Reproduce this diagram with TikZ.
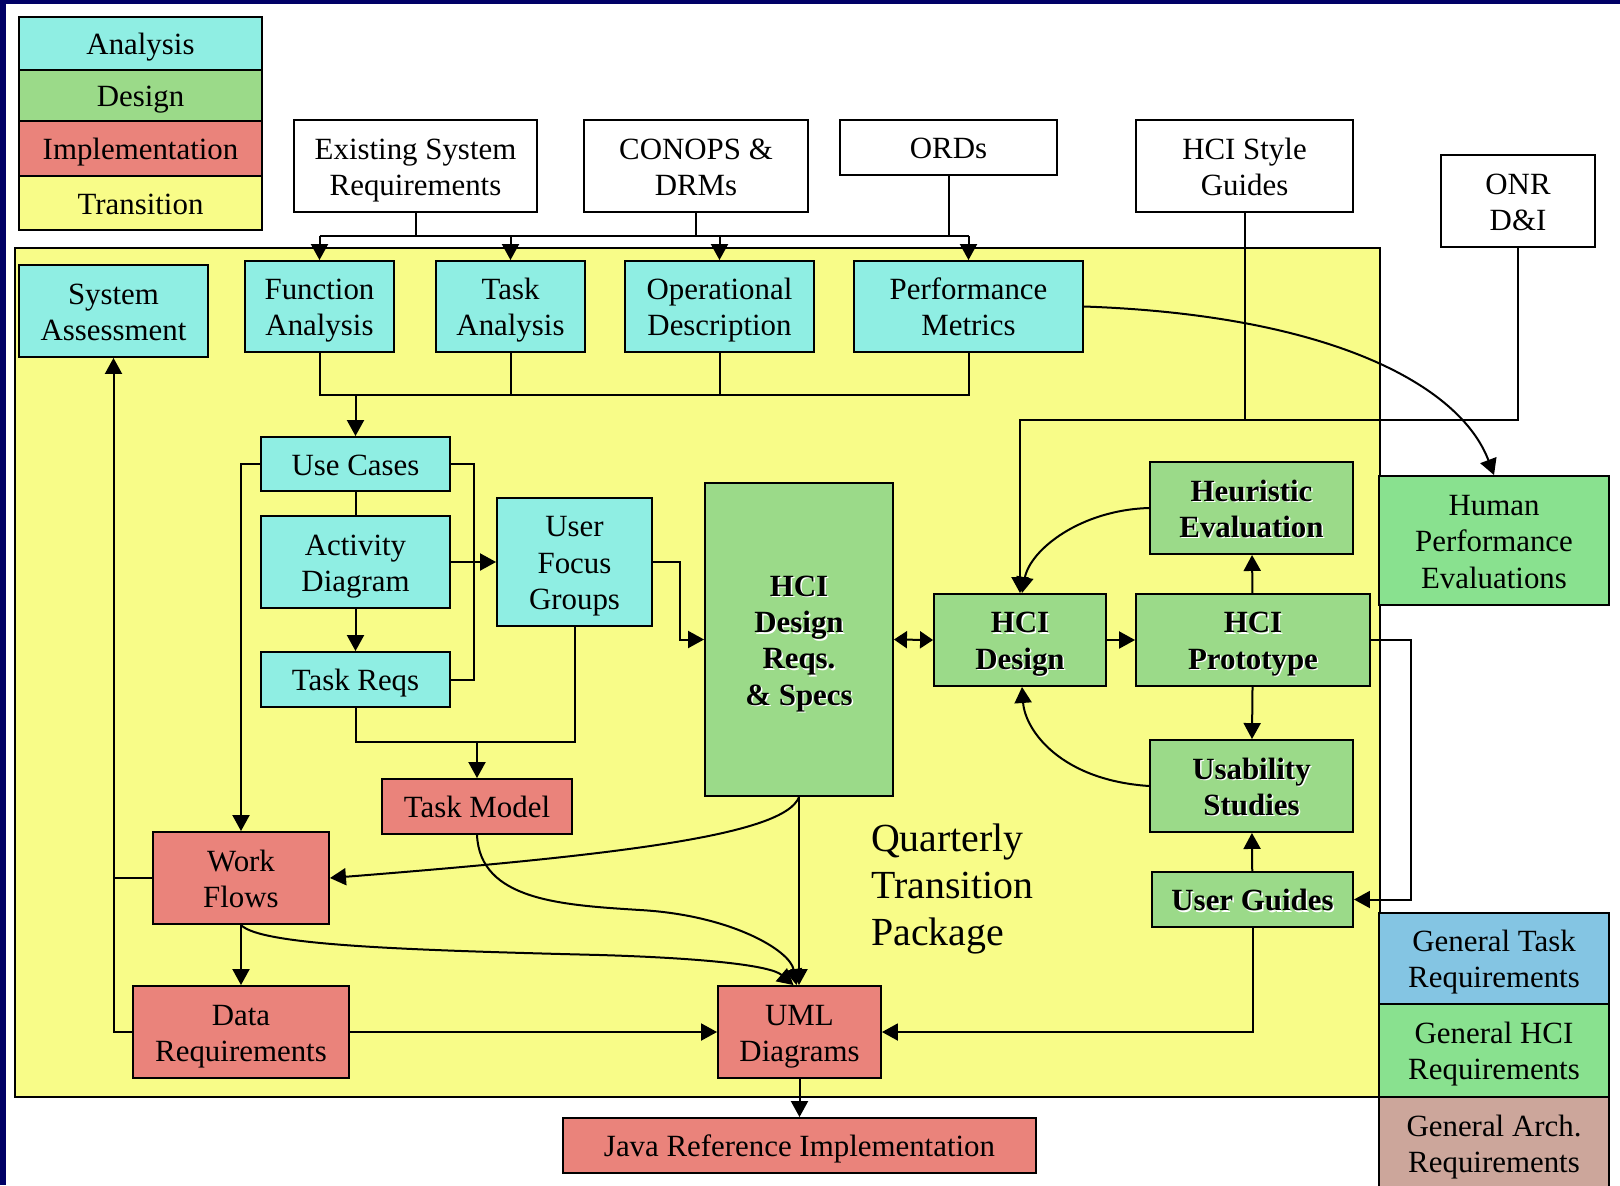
\documentclass[tikz,border=0pt]{standalone}
\usepackage{fontspec}
\setmainfont{Liberation Serif}
\usetikzlibrary{arrows.meta}

\definecolor{navyB}{RGB}{0,0,102}
\definecolor{anaC}{RGB}{143,238,227}
\definecolor{desC}{RGB}{155,218,137}
\definecolor{impC}{RGB}{234,131,123}
\definecolor{traC}{RGB}{248,252,136}
\definecolor{hpeC}{RGB}{137,225,143}
\definecolor{gtrC}{RGB}{132,197,227}
\definecolor{garC}{RGB}{204,166,155}

% bold label with a white drop highlight
\newcommand\emb[1]{\rlap{\kern1.5bp\raisebox{-1.5bp}{\color{white}#1}}#1}
% first-line strut, so every label sits at the same height in its box
\newcommand\fl{\rule{0pt}{30.5bp}}

\begin{document}
\begin{tikzpicture}[x=1bp,y=-1bp,
  font=\fontsize{31}{36.5}\selectfont,
  bx/.style={draw=black, line width=1.9bp, rectangle, inner sep=0pt, align=center,
    execute at end node={\rule[-8bp]{0pt}{8bp}}},
  wh/.style 2 args={minimum width=#1bp, minimum height=#2bp},
  ana/.style={bx, fill=anaC},
  des/.style={bx, fill=desC, font=\fontsize{31}{36.5}\selectfont\bfseries},
  imp/.style={bx, fill=impC},
  inp/.style={bx, fill=white},
  ln/.style={line width=2bp, draw=black},
  arr/.style={ln, -{Triangle[length=16bp,width=17bp]}},
  darr/.style={ln, {Triangle[length=13bp,width=17bp]}-{Triangle[length=13bp,width=17bp]}}
]
\useasboundingbox (0,0) rectangle (1620,1185);
\fill[white] (0,0) rectangle (1620,1185);
% frame strips
\fill[navyB] (0,0) rectangle (1620,3.5);
\fill[navyB] (0,0) rectangle (5.5,1185);

% transition area
\draw[fill=traC, line width=1.4bp] (15,248) rectangle (1380,1097);

% legend
\node[bx, fill=anaC, wh={243}{53}] (legA) at (140.5,43.5) {\fl Analysis};
\node[bx, fill=desC, wh={243}{51}] (legD) at (140.5,95.5) {\fl Design};
\node[bx, fill=impC, wh={243}{55}] (legI) at (140.5,148.5) {\fl Implementation};
\node[bx, fill=traC, wh={243}{54}] (legT) at (140.5,203) {\fl Transition};

% external inputs
\node[inp, wh={243}{92}] (esr) at (415.5,166) {\fl Existing System\\Requirements};
\node[inp, wh={224}{92}] (conops) at (696,166) {\fl CONOPS \&\\DRMs};
\node[inp, wh={217}{55}] (ords) at (948.5,147.5) {\fl ORDs};
\node[inp, wh={217}{92}] (hsg) at (1244.5,166) {\fl HCI Style\\Guides};
\node[inp, wh={154}{92}] (onr) at (1518,201) {\fl ONR\\D\&I};

% analysis
\node[ana, wh={189}{92}] (sa) at (113.5,311) {\fl System\\Assessment};
\node[ana, wh={149}{91}] (fa) at (319.5,306.5) {\fl Function\\Analysis};
\node[ana, wh={149}{91}] (ta) at (510.5,306.5) {\fl Task\\Analysis};
\node[ana, wh={189}{91}] (od) at (719.5,306.5) {\fl Operational\\Description};
\node[ana, wh={229}{91}] (pm) at (968.5,306.5) {\fl Performance\\Metrics};
\node[ana, wh={189}{54}] (uc) at (355.5,464) {\fl Use Cases};
\node[ana, wh={189}{92}] (ad) at (355.5,562) {\fl Activity\\Diagram};
\node[ana, wh={189}{55}] (tr) at (355.5,679.5) {\fl Task Reqs};
\node[ana, wh={155}{128}] (ufg) at (574.5,562) {\fl User\\Focus\\Groups};

% design
\node[des, wh={188}{313}] (reqs) at (799,639.5) {\fl\emb{HCI}\\\emb{Design}\\\emb{Reqs.}\\\emb{\& Specs}};
\node[des, wh={172}{92}] (hd) at (1020,640) {\fl\emb{HCI}\\\emb{Design}};
\node[des, wh={234}{92}] (hp) at (1253,640) {\fl\emb{HCI}\\\emb{Prototype}};
\node[des, wh={203}{92}] (he) at (1251.5,508) {\fl\emb{Heuristic}\\\emb{Evaluation}};
\node[des, wh={203}{92}] (us) at (1251.5,786) {\fl\emb{Usability}\\\emb{Studies}};
\node[des, wh={201}{55}] (ug) at (1252.5,899.5) {\fl\emb{User Guides}};
\node[bx, fill=hpeC, wh={230}{129}] (hpe) at (1494,540.5) {\fl Human\\Performance\\Evaluations};

% implementation
\node[imp, wh={190}{55}] (tm) at (477,806.5) {\fl Task Model};
\node[imp, wh={176}{92}] (wf) at (241,878) {\fl Work\\Flows};
\node[imp, wh={216}{92}] (dr) at (241,1032) {\fl Data\\Requirements};
\node[imp, wh={163}{92}] (uml) at (799.5,1032) {\fl UML\\Diagrams};
\node[imp, wh={473}{55}] (java) at (799.5,1145.5) {\fl Java Reference Implementation};

% general requirements column
\node[bx, fill=gtrC, wh={230}{91}] (gtr) at (1494,958.5) {\fl General Task\\Requirements};
\node[bx, fill=hpeC, wh={230}{93}] (ghr) at (1494,1050.5) {\fl General HCI\\Requirements};
\node[bx, fill=garC, wh={230}{93}] (gar) at (1494,1143.5) {\fl General Arch.\\Requirements};

\node[anchor=north west, inner sep=0pt, align=left, font=\fontsize{40}{47}\selectfont] (qtp) at (871,824) {Quarterly\\Transition\\Package};

% input bus into the analysis row
\coordinate (bus) at (0,236);
\draw[ln] (esr) -- (esr |- bus);
\draw[ln] (conops) -- (conops |- bus);
\draw[ln] (ords) -- (ords |- bus);
\draw[ln] (fa |- bus) -- (pm |- bus);
\draw[arr] (fa |- bus) -- (fa);
\draw[arr] (ta |- bus) -- (ta);
\draw[arr] (od |- bus) -- (od);
\draw[arr] (pm |- bus) -- (pm);

% analysis row feeds use cases
\coordinate (col) at (0,395);
\draw[ln] (fa) -- (fa |- col) -- (pm |- col) -- (pm);
\draw[ln] (ta) -- (ta |- col);
\draw[ln] (od) -- (od |- col);
\draw[arr] (uc |- col) -- (uc);

% use case cluster
\draw[ln] (uc) -- (ad);
\draw[arr] (ad) -- (tr);
\draw[ln] (uc.east) -- ++(23,0) |- (tr.east);
\draw[arr] (ad) -- (ufg);
\draw[arr] (uc.west) -- (wf |- uc.west) -- (wf);
\coordinate (tmj) at (0,742);
\draw[ln] (tr) -- (tr |- tmj) -- (ufg |- tmj) -- (ufg);
\draw[arr] (tm |- tmj) -- (tm);
\draw[arr] (ufg.east) -- ++(27,0) |- (reqs.west);

% design loop
\draw[darr] (reqs.east) -- (hd.west);
\draw[arr] (hd) -- (hp);
\draw[arr] (hp) -- (he);
\draw[arr] (hp) -- (us);
\draw[arr] (ug) -- (us);
\draw[arr] (hp.east) -- ++(40,0) |- (ug.east);
\draw[arr] (he.west) .. controls (1080,510) and (1030,550) .. ([xshift=2bp]hd.north);
\draw[arr] (us.west) .. controls (1060,780) and (1025,730) .. ([xshift=2bp]hd.south);

% style guides and ONR into HCI design
\coordinate (top) at (0,420);
\draw[ln] (hsg) -- (hsg |- top);
\draw[arr] (onr) -- (onr |- top) -- (hd |- top) -- (hd);

% metrics to human performance evaluations
\draw[arr] (pm.east) .. controls (1330,315) and (1460,385) .. (hpe.north);

% implementation links
\draw[ln] (wf.west) -- (sa |- wf.west);
\draw[arr] (dr.west) -- (sa |- dr.west) -- (sa);
\draw[arr] (wf) -- (dr);
\draw[arr] (dr) -- (uml);
\draw[arr] (ug) -- (ug |- uml) -- (uml);
\draw[arr] (uml) -- (java);
\draw[arr] (reqs.south) -- (reqs.south |- uml.north);
\draw[arr] (reqs.south) .. controls (785,835) and (620,855) .. (wf.east);
\draw[arr] (tm.south) .. controls (480,900) and (560,905) .. (640,910) .. controls (730,915) and (790,950) .. ([xshift=-3bp]uml.north);
\draw[arr] (wf.south) .. controls (260,945) and (400,950) .. (600,955) .. controls (700,958) and (770,965) .. ([xshift=-6bp]uml.north);
\end{tikzpicture}
\end{document}
